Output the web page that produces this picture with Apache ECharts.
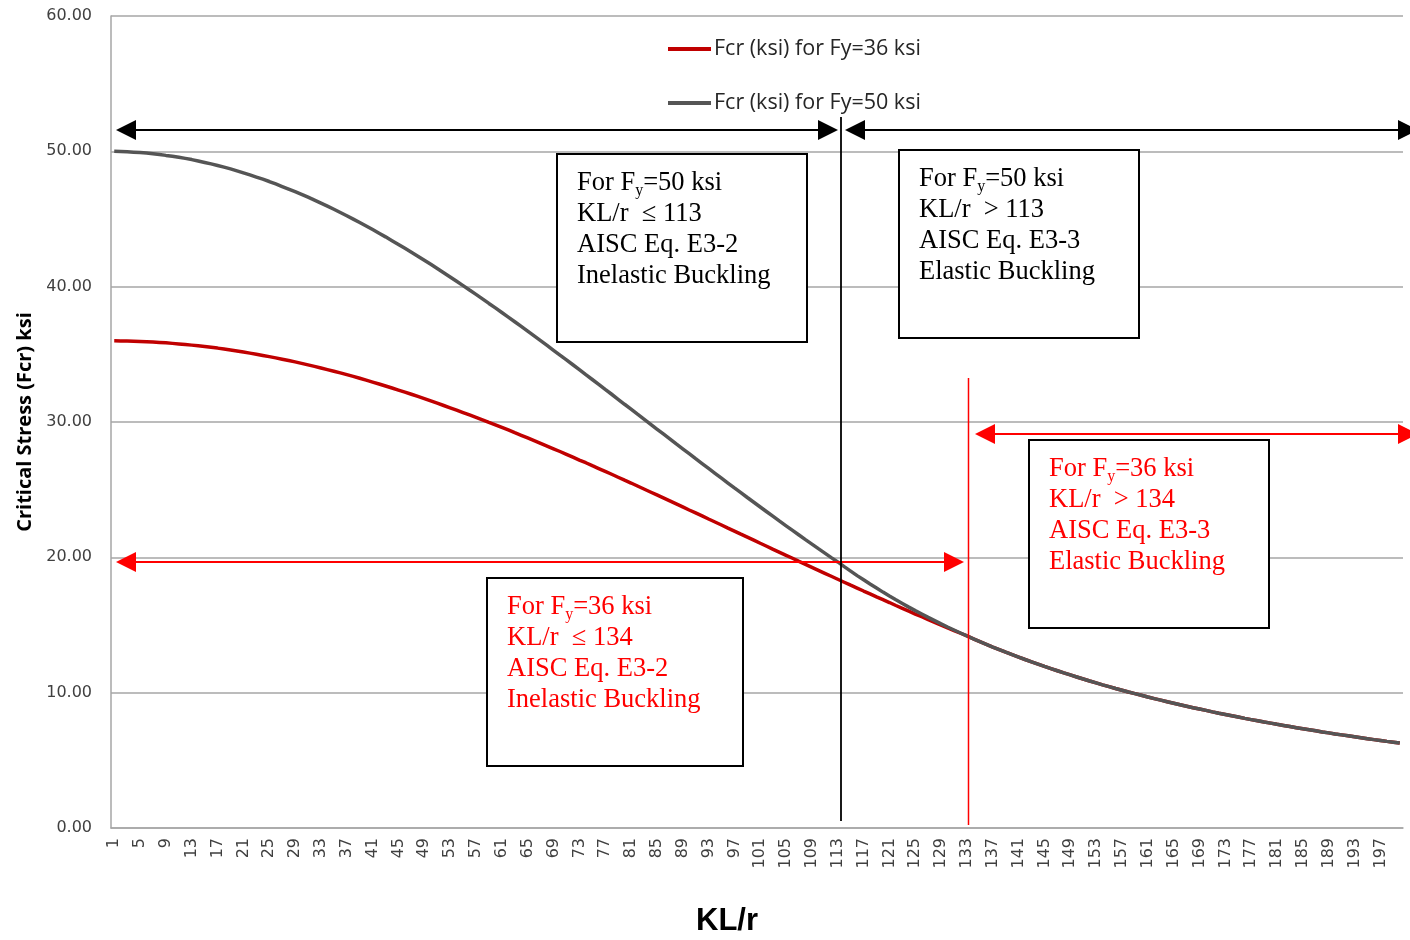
<!DOCTYPE html>
<html>
<head>
<meta charset="utf-8">
<script src="https://cdn.jsdelivr.net/npm/echarts@6/dist/echarts.min.js"></script>
<style>html,body{margin:0;padding:0;background:#fff}#c{width:1410px;height:940px}</style>
</head>
<body>
<div id="c"></div>
<script>
const categories = [1,2,3,4,5,6,7,8,9,10,11,12,13,14,15,16,17,18,19,20,21,22,23,24,25,26,27,28,29,30,31,32,33,34,35,36,37,38,39,40,41,42,43,44,45,46,47,48,49,50,51,52,53,54,55,56,57,58,59,60,61,62,63,64,65,66,67,68,69,70,71,72,73,74,75,76,77,78,79,80,81,82,83,84,85,86,87,88,89,90,91,92,93,94,95,96,97,98,99,100,101,102,103,104,105,106,107,108,109,110,111,112,113,114,115,116,117,118,119,120,121,122,123,124,125,126,127,128,129,130,131,132,133,134,135,136,137,138,139,140,141,142,143,144,145,146,147,148,149,150,151,152,153,154,155,156,157,158,159,160,161,162,163,164,165,166,167,168,169,170,171,172,173,174,175,176,177,178,179,180,181,182,183,184,185,186,187,188,189,190,191,192,193,194,195,196,197,198,199,200];

const seriesNames = ['Fcr (ksi) for Fy=36 ksi', 'Fcr (ksi) for Fy=50 ksi'];

const fcr36 = [
36.00,35.99,35.98,35.97,35.95,35.93,35.91,35.88,35.85,35.81,
35.77,35.73,35.68,35.63,35.58,35.52,35.46,35.39,35.32,35.25,
35.17,35.09,35.01,34.92,34.83,34.74,34.64,34.54,34.44,34.33,
34.22,34.11,33.99,33.87,33.75,33.63,33.50,33.37,33.23,33.09,
32.95,32.81,32.66,32.51,32.36,32.21,32.05,31.89,31.73,31.56,
31.39,31.22,31.05,30.88,30.70,30.52,30.34,30.16,29.97,29.79,
29.60,29.41,29.21,29.02,28.82,28.62,28.42,28.22,28.02,27.82,
27.61,27.40,27.19,26.99,26.77,26.56,26.35,26.14,25.92,25.70,
25.49,25.27,25.05,24.83,24.61,24.39,24.17,23.95,23.73,23.50,
23.28,23.06,22.83,22.61,22.39,22.16,21.94,21.71,21.49,21.27,
21.04,20.82,20.59,20.37,20.15,19.93,19.70,19.48,19.26,19.04,
18.82,18.60,18.38,18.16,17.94,17.73,17.51,17.30,17.08,16.87,
16.66,16.44,16.23,16.02,15.81,15.61,15.40,15.20,14.99,14.79,
14.59,14.39,14.19,13.98,13.77,13.57,13.37,13.18,12.99,12.81,
12.63,12.45,12.28,12.11,11.94,11.78,11.62,11.46,11.31,11.16,
11.01,10.86,10.72,10.58,10.45,10.31,10.18,10.05,9.93,9.81,
9.68,9.56,9.45,9.33,9.22,9.11,9.00,8.89,8.79,8.69,
8.58,8.48,8.39,8.29,8.20,8.10,8.01,7.92,7.83,7.75,
7.66,7.58,7.50,7.41,7.33,7.26,7.18,7.10,7.03,6.95,
6.88,6.81,6.74,6.67,6.60,6.53,6.47,6.40,6.34,6.28
];

const fcr50 = [
50.00,49.99,49.97,49.94,49.91,49.87,49.82,49.77,49.70,49.64,
49.56,49.48,49.39,49.29,49.18,49.07,48.95,48.83,48.70,48.56,
48.41,48.26,48.10,47.94,47.77,47.59,47.40,47.21,47.02,46.82,
46.61,46.39,46.17,45.95,45.72,45.48,45.24,44.99,44.74,44.48,
44.22,43.95,43.68,43.40,43.12,42.83,42.54,42.25,41.95,41.65,
41.34,41.03,40.72,40.40,40.08,39.75,39.43,39.10,38.76,38.43,
38.09,37.75,37.41,37.06,36.71,36.36,36.01,35.66,35.30,34.94,
34.59,34.23,33.87,33.50,33.14,32.78,32.41,32.05,31.68,31.31,
30.95,30.58,30.22,29.85,29.48,29.12,28.75,28.38,28.02,27.66,
27.29,26.93,26.57,26.21,25.85,25.49,25.13,24.78,24.42,24.07,
23.72,23.37,23.02,22.67,22.33,21.99,21.65,21.31,20.98,20.64,
20.31,19.98,19.66,19.31,18.98,18.65,18.34,18.03,17.73,17.43,
17.14,16.86,16.59,16.32,16.06,15.81,15.56,15.32,15.08,14.85,
14.63,14.41,14.19,13.98,13.77,13.57,13.37,13.18,12.99,12.81,
12.63,12.45,12.28,12.11,11.94,11.78,11.62,11.46,11.31,11.16,
11.01,10.86,10.72,10.58,10.45,10.31,10.18,10.05,9.93,9.81,
9.68,9.56,9.45,9.33,9.22,9.11,9.00,8.89,8.79,8.69,
8.58,8.48,8.39,8.29,8.20,8.10,8.01,7.92,7.83,7.75,
7.66,7.58,7.50,7.41,7.33,7.26,7.18,7.10,7.03,6.95,
6.88,6.81,6.74,6.67,6.60,6.53,6.47,6.40,6.34,6.28
];

const yTicks = { min: 0, max: 60, interval: 10 };

const boxTexts = [
  { lines: [['For F','y','=50 ksi'], 'KL/r  \u2264 113', 'AISC Eq. E3-2', 'Inelastic Buckling'], color: '#000000' },
  { lines: [['For F','y','=50 ksi'], 'KL/r  > 113', 'AISC Eq. E3-3', 'Elastic Buckling'], color: '#000000' },
  { lines: [['For F','y','=36 ksi'], 'KL/r  > 134', 'AISC Eq. E3-3', 'Elastic Buckling'], color: '#ff0000' },
  { lines: [['For F','y','=36 ksi'], 'KL/r  \u2264 134', 'AISC Eq. E3-2', 'Inelastic Buckling'], color: '#ff0000' }
];

const chart = echarts.init(document.getElementById('c'), null, { renderer: 'canvas' });

function arrowEls(x1, x2, y, color) {
  const L = 20, H = 10;
  return [
    { type: 'line', z: 50, shape: { x1: x1 + L - 2, y1: y, x2: x2 - L + 2, y2: y }, style: { stroke: color, lineWidth: 2 } },
    { type: 'polygon', z: 50, shape: { points: [[x1, y], [x1 + L, y - H], [x1 + L, y + H]] }, style: { fill: color } },
    { type: 'polygon', z: 50, shape: { points: [[x2, y], [x2 - L, y - H], [x2 - L, y + H]] }, style: { fill: color } }
  ];
}

function boxEls(bx, by, bw, bh, tx, ty, spec) {
  const parts = spec.lines.map(function (ln) {
    if (Array.isArray(ln)) return '{n|' + ln[0] + '}{s|' + ln[1] + '}{n|' + ln[2] + '}';
    return '{n|' + ln + '}';
  });
  return [
    { type: 'rect', z: 60, shape: { x: bx, y: by, width: bw, height: bh }, style: { fill: '#ffffff', stroke: '#000000', lineWidth: 2 } },
    { type: 'text', z: 61, x: tx, y: ty, style: {
        text: parts.join('\n'),
        fill: spec.color,
        verticalAlign: 'top',
        rich: {
          n: { fontFamily: 'Liberation Serif', fontSize: 26.5, lineHeight: 31, fill: spec.color },
          s: { fontFamily: 'Liberation Serif', fontSize: 16, lineHeight: 16, padding: [14, 0, 0, 0], fill: spec.color }
        }
    } }
  ];
}

let graphics = [];
graphics = graphics.concat(arrowEls(116, 838, 130, '#000000'));
graphics = graphics.concat(arrowEls(845, 1418, 130, '#000000'));
graphics = graphics.concat(arrowEls(116, 964, 562, '#ff0000'));
graphics = graphics.concat(arrowEls(975, 1418, 434, '#ff0000'));
graphics.push({ type: 'line', z: 55, shape: { x1: 841, y1: 117, x2: 841, y2: 821 }, style: { stroke: '#000000', lineWidth: 1.8 } });
graphics.push({ type: 'line', z: 55, shape: { x1: 968.5, y1: 378, x2: 968.5, y2: 825 }, style: { stroke: '#ff0000', lineWidth: 1.5 } });
graphics = graphics.concat(boxEls(557, 154, 250, 188, 577, 168, boxTexts[0]));
graphics = graphics.concat(boxEls(899, 150, 240, 188, 919, 164, boxTexts[1]));
graphics = graphics.concat(boxEls(1029, 440, 240, 188, 1049, 454, boxTexts[2]));
graphics = graphics.concat(boxEls(487, 578, 256, 188, 507, 592, boxTexts[3]));
graphics.push({ type: 'text', z: 70, x: 727, y: 921, style: { text: 'KL/r', fill: '#000000', font: 'bold 31px "Liberation Sans"', align: 'center', verticalAlign: 'middle' } });

chart.setOption({
  animation: false,
  backgroundColor: '#ffffff',
  grid: { left: 111, right: 7, top: 16, bottom: 112, containLabel: false },
  legend: {
    orient: 'vertical', left: 663, top: 33,
    icon: 'rect',
    itemWidth: 43, itemHeight: 4, itemGap: 32,
    textStyle: { fontFamily: 'Open Sans', fontSize: 21.5, color: '#262626', padding: [0, 0, 0, -2] },
    data: seriesNames
  },
  xAxis: {
    type: 'category', data: categories, boundaryGap: true,
    axisLine: { lineStyle: { color: '#a6a6a6', width: 1.5 } },
    axisTick: { show: false },
    axisLabel: { interval: 3, rotate: 90, margin: 10, fontFamily: 'DejaVu Sans', fontSize: 16, color: '#404040' },
    splitLine: { show: false }
  },
  yAxis: {
    type: 'value', min: yTicks.min, max: yTicks.max, interval: yTicks.interval,
    name: 'Critical Stress (Fcr) ksi', nameLocation: 'middle', nameGap: 73,
    nameTextStyle: { fontFamily: 'Open Sans', fontWeight: 'bold', fontSize: 20, color: '#000000' },
    axisLine: { show: true, lineStyle: { color: '#a6a6a6', width: 1.5 } },
    axisTick: { show: false },
    axisLabel: { margin: 19, fontFamily: 'DejaVu Sans', fontSize: 16, color: '#404040', formatter: function (v) { return v.toFixed(2); } },
    splitLine: { lineStyle: { color: '#a6a6a6', width: 1.5 } }
  },
  series: [
    { name: seriesNames[0], type: 'line', data: fcr36, symbol: 'none', smooth: false, z: 3,
      lineStyle: { color: '#c00000', width: 3.5 }, itemStyle: { color: '#c00000' } },
    { name: seriesNames[1], type: 'line', data: fcr50, symbol: 'none', smooth: false, z: 4,
      lineStyle: { color: '#555555', width: 3.5 }, itemStyle: { color: '#555555' } }
  ],
  graphic: { elements: graphics }
});
</script>
</body>
</html>
